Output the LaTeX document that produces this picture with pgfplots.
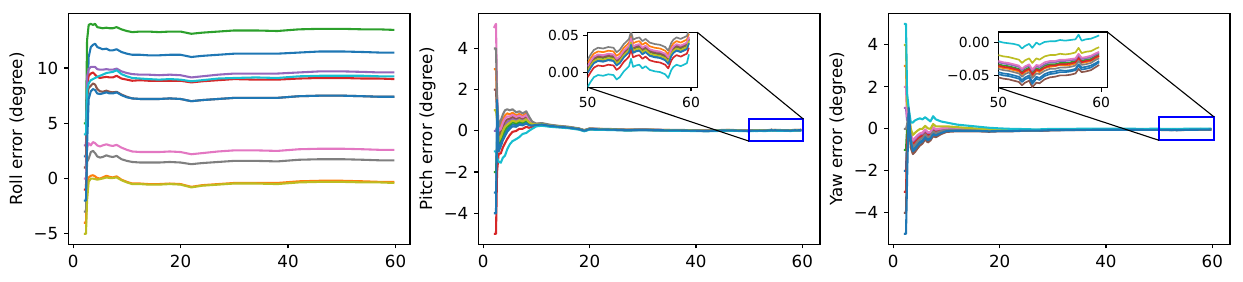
\documentclass[border=0pt]{standalone}
\usepackage{fontspec}
\setmainfont{DejaVu Sans}
\usepackage{pgfplots}
\usepackage{pgfplotstable}
\pgfplotsset{compat=1.18}
\definecolor{cA}{HTML}{1F77B4}
\definecolor{cB}{HTML}{FF7F0E}
\definecolor{cC}{HTML}{2CA02C}
\definecolor{cD}{HTML}{D62728}
\definecolor{cE}{HTML}{9467BD}
\definecolor{cF}{HTML}{8C564B}
\definecolor{cG}{HTML}{E377C2}
\definecolor{cH}{HTML}{7F7F7F}
\definecolor{cI}{HTML}{BCBD22}
\definecolor{cJ}{HTML}{17BECF}

\pgfplotstableread{
x a b c d e f g h i j k
2 2 -4 5 -1 3 1 0 -3 -5 4 -2
2.4 2 -4 5 -1 3 1 0 -3 -5 4 -2
2.6 6 -0.5 12.5 8.5 9.2 7.5 2.8 1.5 -2 8.0 3
2.9 11.0 0.1 13.9 9.3 9.9 8.2 3.2 1.8 -0.3 8.6 7.2
3.3 11.9 0.25 14.0 9.5 10.1 8.4 3.0 2.4 0.0 8.9 7.9
3.7 12.1 0.3 13.9 9.6 10.1 8.6 3.3 2.5 0.0 9.0 8.1
4.1 12.2 0.2 14.0 9.4 10.1 8.5 3.2 2.3 -0.05 9.1 8.0
4.5 11.9 0.05 13.7 9.2 9.9 8.1 3.0 2.0 -0.1 9.2 7.7
5 11.8 0.0 13.65 9.1 9.85 7.9 2.9 1.9 -0.05 9.3 7.65
5.5 11.7 0.1 13.6 9.15 9.85 7.85 3.0 1.95 0.0 9.4 7.7
6.2 11.75 0.25 13.65 9.2 9.9 7.95 3.1 2.1 0.1 9.55 7.8
6.8 11.6 0.15 13.6 9.15 9.85 7.85 3.0 2.0 0.05 9.6 7.7
7.4 11.6 0.1 13.6 9.15 9.85 7.8 2.95 1.95 0.05 9.65 7.7
8.1 11.7 0.2 13.7 9.3 9.95 7.85 3.05 2.05 0.1 9.8 7.8
9 11.45 -0.1 13.5 9.05 9.7 7.6 2.8 1.75 -0.15 9.45 7.55
10 11.3 -0.3 13.35 8.95 9.55 7.4 2.6 1.6 -0.35 9.25 7.35
11 11.2 -0.45 13.25 8.85 9.45 7.25 2.45 1.5 -0.5 9.1 7.25
12.5 11.2 -0.45 13.3 8.9 9.4 7.2 2.4 1.45 -0.5 9.05 7.2
14 11.15 -0.5 13.3 8.85 9.4 7.2 2.4 1.45 -0.55 9.0 7.2
16 11.15 -0.5 13.25 8.85 9.35 7.2 2.4 1.45 -0.55 8.95 7.2
18 11.2 -0.45 13.3 8.85 9.4 7.25 2.45 1.5 -0.5 9.0 7.25
20 11.2 -0.5 13.3 8.85 9.35 7.2 2.4 1.45 -0.55 8.95 7.2
22 11.0 -0.75 13.1 8.7 9.15 7.0 2.2 1.3 -0.8 8.8 7.0
24 11.1 -0.6 13.2 8.8 9.25 7.1 2.3 1.4 -0.65 8.9 7.1
27 11.2 -0.5 13.3 8.9 9.4 7.2 2.45 1.5 -0.55 9.05 7.2
30 11.3 -0.4 13.4 9.0 9.5 7.3 2.55 1.6 -0.45 9.1 7.3
34 11.3 -0.4 13.4 8.95 9.5 7.3 2.55 1.6 -0.45 9.15 7.3
38 11.3 -0.4 13.35 8.95 9.5 7.3 2.5 1.55 -0.5 9.1 7.3
42 11.4 -0.25 13.5 9.05 9.6 7.45 2.65 1.7 -0.35 9.25 7.45
46 11.5 -0.2 13.55 9.1 9.7 7.5 2.7 1.75 -0.3 9.3 7.5
50 11.5 -0.2 13.55 9.1 9.7 7.5 2.7 1.75 -0.3 9.3 7.5
54 11.45 -0.25 13.5 9.05 9.65 7.45 2.65 1.7 -0.35 9.3 7.45
57 11.4 -0.3 13.5 9.05 9.6 7.4 2.6 1.65 -0.35 9.25 7.4
59.8 11.4 -0.3 13.45 9.0 9.6 7.4 2.6 1.65 -0.4 9.25 7.4
}\rolltab

\pgfplotstableread{
x a b c d e f g h i j k
2 -3 3 -2 -5 0 2 5 4 1 -1 -4
2.4 -3 3 -2 -5 0 2 5.2 4 1 -1 -4
2.6 -1.0 1.0 -0.5 -2.0 0.2 0.8 1.8 1.5 0.5 -1.3 1.5
2.9 -0.8 -0.2 -0.6 -1.1 -0.4 -0.3 0 0.2 -0.5 -1.5 -1.0
3.3 -0.55 0.25 -0.4 -1.1 -0.15 0 0.1 0.5 -0.3 -1.55 -0.75
3.7 -0.3 0.55 -0.15 -0.8 0.1 0.25 0.4 0.8 0 -1.3 -0.45
4.1 -0.1 0.75 0.05 -0.6 0.3 0.45 0.6 1.0 0.2 -1.2 -0.25
4.5 0.05 0.85 0.2 -0.4 0.42 0.55 0.7 1.05 0.3 -0.9 -0.05
5 0.2 0.8 0.3 -0.2 0.5 0.6 0.7 1.0 0.4 -0.65 0.1
5.5 0.32 0.88 0.42 -0.05 0.6 0.68 0.78 1.05 0.5 -0.5 0.22
6.2 0.28 0.76 0.36 0 0.52 0.6 0.68 0.9 0.44 -0.4 0.2
6.8 0.37 0.82 0.45 0.1 0.6 0.67 0.74 0.95 0.52 -0.3 0.3
7.4 0.33 0.73 0.4 0.1 0.53 0.6 0.66 0.85 0.46 -0.15 0.27
8.1 0.43 0.84 0.5 0.2 0.63 0.7 0.77 0.95 0.57 -0.1 0.36
8.6 0.32 0.62 0.37 0.15 0.47 0.52 0.57 0.7 0.42 0 0.27
9.2 0.28 0.41 0.3 0.2 0.35 0.37 0.39 0.45 0.33 0.1 0.26
10 0.3 0.34 0.31 0.28 0.32 0.33 0.33 0.35 0.31 0.22 0.29
11 0.312 0.357 0.318 0.286 0.331 0.335 0.341 0.38 0.322 0.25 0.309
12.5 0.248 0.282 0.252 0.228 0.262 0.265 0.27 0.30 0.255 0.20 0.245
14 0.208 0.236 0.212 0.192 0.22 0.222 0.226 0.25 0.214 0.17 0.206
16 0.164 0.187 0.166 0.15 0.173 0.176 0.179 0.20 0.168 0.13 0.161
18 0.089 0.109 0.091 0.077 0.097 0.099 0.102 0.12 0.093 0.06 0.087
19 0.009 0.029 0.011 -0.003 0.017 0.019 0.022 0.04 0.013 -0.02 0.007
20 0.089 0.109 0.091 0.077 0.097 0.099 0.102 0.12 0.093 0.06 0.087
22 0.074 0.091 0.076 0.064 0.081 0.083 0.085 0.10 0.078 0.05 0.073
24 0.064 0.081 0.066 0.054 0.071 0.073 0.075 0.09 0.068 0.04 0.063
27 0.037 0.052 0.038 0.028 0.043 0.044 0.047 0.06 0.04 0.015 0.035
30 0.049 0.063 0.051 0.041 0.055 0.056 0.058 0.07 0.052 0.03 0.048
34 0.029 0.043 0.031 0.021 0.035 0.036 0.038 0.05 0.032 0.01 0.028
38 0.019 0.033 0.021 0.011 0.025 0.026 0.028 0.04 0.022 0 0.018
42 -0.001 0.013 0.001 -0.009 0.005 0.006 0.008 0.02 0.002 -0.02 -0.002
46 0.029 0.043 0.031 0.021 0.035 0.036 0.038 0.05 0.032 0.01 0.028
50 0 0.012 0.004 -0.007 0.007 0.005 0.008 0.017 0.002 -0.02 -0.001
}\pitchtab

\pgfplotstableread{
x a b c d e f g h i j k
50.0 0.000 0.012 0.004 -0.007 0.007 0.005 0.008 0.017 0.002 -0.020 -0.001
50.3 0.007 0.019 0.011 0.000 0.014 0.012 0.015 0.024 0.009 -0.013 0.006
50.6 0.013 0.025 0.017 0.006 0.020 0.018 0.021 0.030 0.015 -0.007 0.012
51.0 0.016 0.028 0.020 0.009 0.023 0.021 0.024 0.033 0.018 -0.004 0.015
51.5 0.015 0.027 0.019 0.008 0.022 0.020 0.023 0.032 0.017 -0.005 0.014
52.0 0.017 0.029 0.021 0.010 0.024 0.022 0.025 0.034 0.019 -0.003 0.016
52.5 0.016 0.028 0.020 0.009 0.023 0.021 0.024 0.033 0.018 -0.004 0.015
52.8 0.010 0.022 0.014 0.003 0.017 0.015 0.018 0.027 0.012 -0.010 0.009
53.1 0.013 0.025 0.017 0.006 0.020 0.018 0.021 0.030 0.015 -0.007 0.012
53.5 0.021 0.033 0.025 0.014 0.028 0.026 0.029 0.038 0.023 0.001 0.020
53.8 0.025 0.037 0.029 0.018 0.032 0.030 0.033 0.042 0.027 0.005 0.024
54.0 0.028 0.040 0.032 0.021 0.035 0.033 0.036 0.045 0.030 0.008 0.027
54.2 0.038 0.050 0.042 0.031 0.045 0.043 0.046 0.055 0.040 0.018 0.037
54.4 0.027 0.039 0.031 0.020 0.034 0.032 0.035 0.044 0.029 0.007 0.026
54.7 0.029 0.041 0.033 0.022 0.036 0.034 0.037 0.046 0.031 0.009 0.028
55.0 0.030 0.042 0.034 0.023 0.037 0.035 0.038 0.047 0.032 0.010 0.029
55.3 0.025 0.037 0.029 0.018 0.032 0.030 0.033 0.042 0.027 0.005 0.024
55.6 0.028 0.040 0.032 0.021 0.035 0.033 0.036 0.045 0.030 0.008 0.027
56.0 0.023 0.035 0.027 0.016 0.030 0.028 0.031 0.040 0.025 0.003 0.022
56.5 0.021 0.033 0.025 0.014 0.028 0.026 0.029 0.038 0.023 0.001 0.020
57.0 0.020 0.032 0.024 0.013 0.027 0.025 0.028 0.037 0.022 0.000 0.019
57.5 0.017 0.029 0.021 0.010 0.024 0.022 0.025 0.034 0.019 -0.003 0.016
57.8 0.012 0.024 0.016 0.005 0.019 0.017 0.020 0.029 0.014 -0.008 0.011
58.1 0.023 0.035 0.027 0.016 0.030 0.028 0.031 0.040 0.025 0.003 0.022
58.3 0.027 0.039 0.031 0.020 0.034 0.032 0.035 0.044 0.029 0.007 0.026
58.6 0.030 0.042 0.034 0.023 0.037 0.035 0.038 0.047 0.032 0.010 0.029
59.0 0.028 0.040 0.032 0.021 0.035 0.033 0.036 0.045 0.030 0.008 0.027
59.3 0.030 0.042 0.034 0.023 0.037 0.035 0.038 0.047 0.032 0.010 0.029
59.6 0.032 0.044 0.036 0.025 0.039 0.037 0.040 0.049 0.034 0.012 0.031
59.8 0.040 0.052 0.044 0.033 0.047 0.045 0.048 0.057 0.042 0.024 0.039
}\pitchzoom

\pgfplotstableread{
x a b c d e f g h i j k
2 -2 3 -1 -3 1 -4 2 0 4 5 -5
2.4 -2 3 -1 -3 1 -4 2 0 4 5 -5
2.6 -0.3 0.8 0 -0.8 0.4 -1.2 0.6 0.2 1.2 1.7 -2.5
2.9 0.6 0.85 0.65 0.5 0.75 0.4 0.8 0.7 0.9 1.0 1.0
3.3 -0.6 -0.2 -0.4 -0.55 -0.35 -0.9 -0.3 -0.5 0 0.3 -0.6
3.7 -0.99 -0.77 -0.66 -0.72 -0.59 -1.2 -0.53 -0.86 -0.29 0.3 -1.07
4.1 -0.89 -0.67 -0.56 -0.62 -0.49 -1.1 -0.43 -0.76 -0.19 0.4 -0.97
4.5 -0.75 -0.54 -0.45 -0.5 -0.38 -0.95 -0.32 -0.63 -0.1 0.45 -0.82
5 -0.62 -0.42 -0.33 -0.38 -0.27 -0.8 -0.22 -0.5 -0.01 0.5 -0.68
5.5 -0.54 -0.37 -0.29 -0.33 -0.23 -0.7 -0.18 -0.44 0 0.45 -0.6
6 -0.35 -0.2 -0.12 -0.16 -0.07 -0.5 -0.03 -0.26 0.14 0.55 -0.41
6.5 -0.5 -0.33 -0.25 -0.3 -0.2 -0.65 -0.16 -0.4 0.02 0.45 -0.55
7 -0.42 -0.29 -0.23 -0.26 -0.18 -0.55 -0.15 -0.34 0 0.35 -0.47
7.5 -0.22 -0.07 -0.01 -0.05 0.04 -0.35 0.08 -0.13 0.23 0.6 -0.26
8 -0.28 -0.15 -0.09 -0.13 -0.05 -0.4 -0.02 -0.2 0.12 0.45 -0.32
9 -0.17 -0.08 -0.03 -0.06 0 -0.25 0.02 -0.11 0.12 0.35 -0.2
10 -0.09 -0.02 0.01 -0.01 0.03 -0.15 0.05 -0.05 0.12 0.3 -0.11
11 -0.08 -0.02 0.01 -0.01 0.03 -0.13 0.04 -0.04 0.1 0.25 -0.1
12 -0.08 -0.03 0 -0.02 0.01 -0.12 0.02 -0.05 0.08 0.2 -0.09
14 -0.08 -0.04 -0.02 -0.03 -0.01 -0.12 0 -0.06 0.04 0.15 -0.1
16 -0.09 -0.06 -0.04 -0.05 -0.03 -0.12 -0.02 -0.07 0.01 0.1 -0.1
18 -0.11 -0.08 -0.07 -0.08 -0.06 -0.14 -0.05 -0.1 -0.02 0.05 -0.12
20 -0.1 -0.08 -0.07 -0.08 -0.06 -0.12 -0.06 -0.09 -0.03 0.02 -0.11
22 -0.1 -0.09 -0.08 -0.08 -0.07 -0.12 -0.07 -0.09 -0.05 0 -0.11
24 -0.09 -0.07 -0.07 -0.07 -0.06 -0.1 -0.06 -0.08 -0.05 -0.01 -0.09
27 -0.09 -0.08 -0.07 -0.08 -0.07 -0.1 -0.07 -0.08 -0.06 -0.03 -0.09
30 -0.06 -0.05 -0.04 -0.05 -0.04 -0.07 -0.04 -0.05 -0.03 0 -0.06
34 -0.05 -0.04 -0.04 -0.04 -0.035 -0.06 -0.03 -0.045 -0.02 0 -0.055
38 -0.042 -0.033 -0.028 -0.031 -0.025 -0.05 -0.023 -0.036 -0.013 0.01 -0.045
42 -0.04 -0.032 -0.027 -0.03 -0.024 -0.048 -0.022 -0.035 -0.012 0.012 -0.043
46 -0.043 -0.036 -0.032 -0.034 -0.03 -0.05 -0.028 -0.039 -0.02 0 -0.046
50 -0.045 -0.037 -0.033 -0.035 -0.030 -0.053 -0.028 -0.040 -0.019 0.002 -0.048
}\yawtab

\pgfplotstableread{
x a b c d e f g h i j k
50.0 -0.045 -0.037 -0.033 -0.035 -0.030 -0.053 -0.028 -0.040 -0.019 0.002 -0.048
50.5 -0.047 -0.039 -0.035 -0.037 -0.032 -0.055 -0.030 -0.042 -0.021 0.000 -0.050
51.0 -0.048 -0.040 -0.036 -0.038 -0.033 -0.056 -0.031 -0.043 -0.022 -0.001 -0.051
51.5 -0.050 -0.042 -0.038 -0.040 -0.035 -0.058 -0.033 -0.045 -0.024 -0.002 -0.053
52.0 -0.052 -0.044 -0.040 -0.042 -0.037 -0.060 -0.035 -0.047 -0.026 -0.004 -0.055
52.3 -0.057 -0.049 -0.045 -0.047 -0.042 -0.065 -0.040 -0.052 -0.031 -0.009 -0.060
52.6 -0.053 -0.045 -0.041 -0.043 -0.038 -0.061 -0.036 -0.048 -0.027 -0.005 -0.056
53.0 -0.050 -0.042 -0.038 -0.040 -0.035 -0.058 -0.033 -0.045 -0.024 -0.002 -0.053
53.3 -0.060 -0.051 -0.046 -0.049 -0.043 -0.068 -0.041 -0.054 -0.031 -0.008 -0.063
53.7 -0.052 -0.043 -0.039 -0.041 -0.036 -0.061 -0.034 -0.047 -0.024 0.000 -0.055
54.0 -0.054 -0.045 -0.041 -0.043 -0.038 -0.062 -0.035 -0.048 -0.026 -0.003 -0.057
54.5 -0.048 -0.039 -0.035 -0.038 -0.033 -0.056 -0.030 -0.043 -0.021 0.001 -0.051
55.0 -0.045 -0.037 -0.033 -0.035 -0.030 -0.053 -0.028 -0.040 -0.019 0.002 -0.048
55.5 -0.044 -0.036 -0.033 -0.035 -0.030 -0.052 -0.028 -0.040 -0.019 0.002 -0.047
56.0 -0.042 -0.034 -0.031 -0.033 -0.028 -0.050 -0.026 -0.038 -0.017 0.004 -0.045
56.5 -0.043 -0.035 -0.031 -0.033 -0.028 -0.050 -0.026 -0.038 -0.018 0.003 -0.045
57.0 -0.042 -0.034 -0.030 -0.032 -0.027 -0.049 -0.025 -0.037 -0.017 0.004 -0.044
57.5 -0.040 -0.032 -0.028 -0.030 -0.026 -0.047 -0.024 -0.035 -0.015 0.005 -0.042
57.8 -0.033 -0.025 -0.021 -0.023 -0.019 -0.040 -0.017 -0.028 -0.008 0.012 -0.035
58.1 -0.038 -0.031 -0.028 -0.030 -0.025 -0.045 -0.023 -0.034 -0.016 0.003 -0.041
58.5 -0.037 -0.030 -0.026 -0.028 -0.024 -0.044 -0.022 -0.033 -0.014 0.005 -0.040
59.0 -0.035 -0.028 -0.025 -0.027 -0.022 -0.042 -0.020 -0.031 -0.013 0.006 -0.038
59.5 -0.031 -0.024 -0.020 -0.022 -0.018 -0.037 -0.016 -0.026 -0.009 0.009 -0.033
59.8 -0.028 -0.021 -0.018 -0.020 -0.016 -0.034 -0.014 -0.024 -0.007 0.011 -0.030
}\yawzoom

\newcommand{\plotall}[1]{%
\addplot[cA] table[x=x,y=a]{#1};
\addplot[cB] table[x=x,y=b]{#1};
\addplot[cC] table[x=x,y=c]{#1};
\addplot[cD] table[x=x,y=d]{#1};
\addplot[cE] table[x=x,y=e]{#1};
\addplot[cF] table[x=x,y=f]{#1};
\addplot[cG] table[x=x,y=g]{#1};
\addplot[cH] table[x=x,y=h]{#1};
\addplot[cI] table[x=x,y=i]{#1};
\addplot[cJ] table[x=x,y=j]{#1};
\addplot[cA] table[x=x,y=k]{#1};
}

\pgfplotsset{
  baseax/.style={
    scale only axis, tick align=outside, major tick length=3pt,
    xtick pos=left, ytick pos=left, no markers,
    scaled ticks=false,
    axis line style={line width=0.8pt},
    every tick/.style={black, line width=0.8pt},
    /pgf/number format/assume math mode=true,
  },
  mainax/.style={
    baseax, width=246pt, height=166.3pt,
    xtick={0,20,40,60},
    every axis plot/.append style={line width=1.5pt, line join=round},
    ticklabel style={font=\fontsize{12}{14}\selectfont},
    xticklabel style={inner sep=0pt, yshift=-4.5pt},
    yticklabel style={inner sep=0pt, xshift=-4pt},
    ylabel style={font=\fontsize{12}{14}\selectfont, at={(axis description cs:-0.1488,0.5)}, anchor=center},
  },
  insetax/.style={
    baseax, width=78.9pt, height=39.6pt, xmin=50, xmax=60.6,
    xtick={50,60}, xticklabels={50,60},
    axis background/.style={fill=white},
    every axis plot/.append style={line width=1.2pt, line join=round},
    ticklabel style={font=\fontsize{10}{12}\selectfont},
    xticklabel style={inner sep=0pt, yshift=-4pt},
    yticklabel style={inner sep=0pt, xshift=-3pt},
  },
}

\begin{document}
\begin{tikzpicture}
\useasboundingbox (0,0) rectangle (894.96pt,203.04pt);
% Panel 1: roll
\begin{axis}[mainax, at={(49.18pt,27.14pt)}, anchor=south west,
  xmin=-0.89, xmax=62.69, ymin=-5.95, ymax=14.95,
  ytick={-5,0,5,10}, yticklabels={−5,0,5,10},
  ylabel={Roll error (degree)}]
\plotall{\rolltab}
\end{axis}
% Panel 2: pitch
\begin{axis}[mainax, at={(344.4pt,27.14pt)}, anchor=south west,
  xmin=-0.92, xmax=63.32, ymin=-5.51, ymax=5.71,
  ytick={-4,-2,0,2,4}, yticklabels={−4,−2,0,2,4},
  ylabel={Pitch error (degree)}]
\plotall{\pitchtab}
\plotall{\pitchzoom}
\draw[blue, line width=1.5pt] (axis cs:50,-0.5) rectangle (axis cs:60.2,0.57);
\coordinate (p2a) at (axis cs:60.2,0.57);
\coordinate (p2b) at (axis cs:50,-0.5);
\end{axis}
\draw[black, line width=0.8pt] (502.0pt,179.8pt) -- (p2a);
\draw[black, line width=0.8pt] (423.1pt,140.2pt) -- (p2b);
\begin{axis}[insetax, at={(423.1pt,140.2pt)}, anchor=south west,
  ymin=-0.0206, ymax=0.054, ytick={0,0.05}, yticklabels={0.00,0.05}]
\plotall{\pitchzoom}
\end{axis}
% Panel 3: yaw
\begin{axis}[mainax, at={(639.6pt,27.14pt)}, anchor=south west,
  xmin=-0.92, xmax=63.32, ymin=-5.5, ymax=5.5,
  ytick={-4,-2,0,2,4}, yticklabels={−4,−2,0,2,4},
  ylabel={Yaw error (degree)}]
\plotall{\yawtab}
\plotall{\yawzoom}
\draw[blue, line width=1.5pt] (axis cs:50,-0.55) rectangle (axis cs:60.3,0.57);
\coordinate (p3a) at (axis cs:60.3,0.57);
\coordinate (p3b) at (axis cs:50,-0.55);
\end{axis}
\draw[black, line width=0.8pt] (797.3pt,180.0pt) -- (p3a);
\draw[black, line width=0.8pt] (718.8pt,140.0pt) -- (p3b);
\begin{axis}[insetax, at={(718.8pt,140.0pt)}, anchor=south west, width=78.5pt, height=40pt,
  ymin=-0.0685, ymax=0.0162, ytick={-0.05,0}, yticklabels={−0.05,0.00}]
\plotall{\yawzoom}
\end{axis}
\end{tikzpicture}
\end{document}
